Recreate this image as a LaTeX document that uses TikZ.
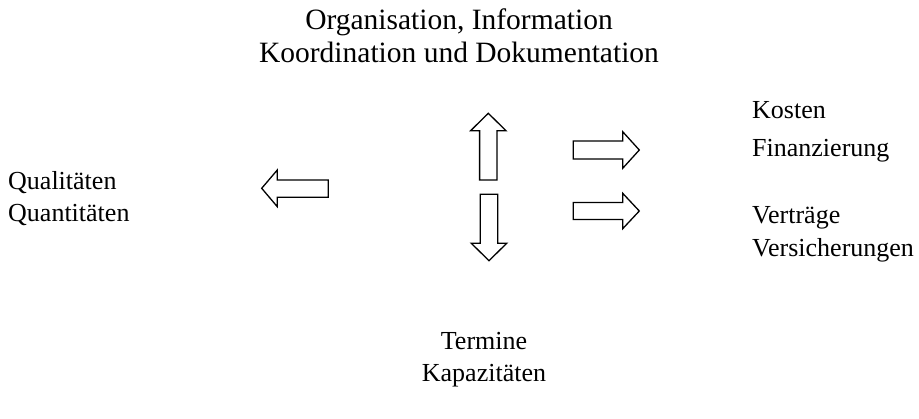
\documentclass[tikz,border=0pt]{standalone}
\usepackage{fontspec}
\setmainfont{Liberation Serif}
\begin{document}
\begin{tikzpicture}[x=1pt,y=-1pt,
  lbl/.style={inner sep=0pt,font=\fontsize{26}{32}\selectfont},
  headlbl/.style={inner sep=0pt,font=\fontsize{29.5}{33}\selectfont},
  blockarrow/.style={draw=black,line width=1.3pt,fill=white,line join=miter}]
\useasboundingbox (0,0) rectangle (919,418);

% labels
\node[headlbl,anchor=base] (org)  at (459,29)  {Organisation, Information};
\node[headlbl,anchor=base] (koor) at (459,62)  {Koordination und Dokumentation};
\node[lbl,anchor=base west] (qual) at (8,189)   {Qualitäten};
\node[lbl,anchor=base west] (quan) at (8,221)   {Quantitäten};
\node[lbl,anchor=base west] (kost) at (752,118) {Kosten};
\node[lbl,anchor=base west] (fin)  at (752,156) {Finanzierung};
\node[lbl,anchor=base west] (vert) at (752,223) {Verträge};
\node[lbl,anchor=base west] (vers) at (752,256) {Versicherungen};
\node[lbl,anchor=base] (term) at (484,349) {Termine};
\node[lbl,anchor=base] (kap)  at (484,381) {Kapazitäten};

% block arrows
% up
\draw[blockarrow] (479.6,180) -- (479.6,130.7) -- (470.6,130.7) -- (488.3,113.3)
  -- (506,130.7) -- (497,130.7) -- (497,180) -- cycle;
% down
\draw[blockarrow] (480.3,194.3) -- (480.3,243.3) -- (471.3,243.3) -- (489,260.7)
  -- (506.7,243.3) -- (497.7,243.3) -- (497.7,194.3) -- cycle;
% right (costs)
\draw[blockarrow] (573.3,141) -- (622.7,141) -- (622.7,131.7) -- (639.3,150)
  -- (622.7,168.3) -- (622.7,159) -- (573.3,159) -- cycle;
% right (contracts)
\draw[blockarrow] (573.3,202.5) -- (622.7,202.5) -- (622.7,193.3) -- (639.3,211)
  -- (622.7,228.7) -- (622.7,219.5) -- (573.3,219.5) -- cycle;
% left
\draw[blockarrow] (328.3,180) -- (277.3,180) -- (277.3,170) -- (261.7,188.3)
  -- (277.3,206.7) -- (277.3,197.3) -- (328.3,197.3) -- cycle;
\end{tikzpicture}
\end{document}
